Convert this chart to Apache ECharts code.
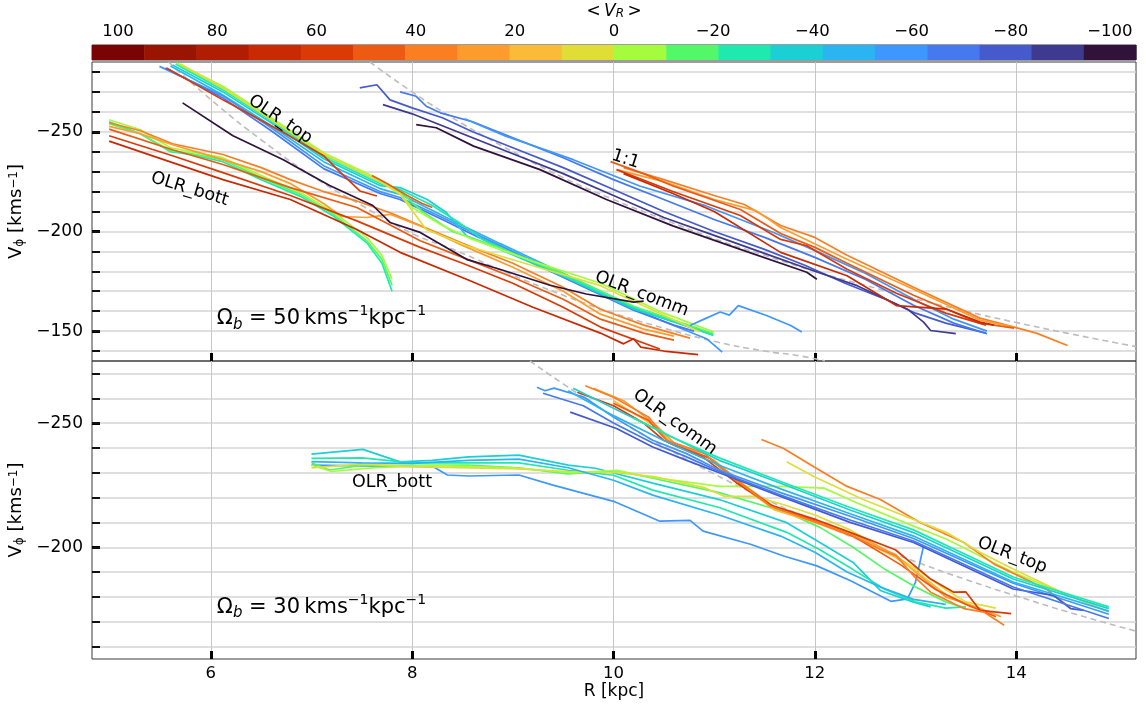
<!DOCTYPE html>
<html><head><meta charset="utf-8">
<script src="https://cdn.jsdelivr.net/npm/echarts@6/dist/echarts.min.js"></script>
<style>html,body{margin:0;padding:0;background:#fff}#c{width:1146px;height:709px}</style>
</head><body><div id="c"></div>
<script>
// ---------- colour bar ----------
const cbCenters = [100, 89.47, 78.95, 68.42, 57.89, 47.37, 36.84, 26.32, 15.79, 5.26,
  -5.26, -15.79, -26.32, -36.84, -47.37, -57.89, -68.42, -78.95, -89.47, -100];
const cbColors = ['#7a0403', '#9a1501', '#b01d02', '#c92903', '#db3a07', '#ed5a12', '#fb7e21', '#fe9b2d', '#fabb39', '#e1dd37',
  '#a4fc3c', '#52f868', '#1ee9af', '#1ad0d5', '#2bb4f2', '#3e97fe', '#4678f0', '#455bcd', '#3e3a8f', '#30123b'];
const cbTicks = [100, 80, 60, 40, 20, 0, -20, -40, -60, -80, -100];

// ---------- axes ticks ----------
const xTicks = [6, 8, 10, 12, 14];
const topMajor = [-250, -200, -150];
const topMinor = [-280, -270, -260, -250, -240, -230, -220, -210, -200, -190, -180, -170, -160, -150, -140];
const botMajor = [-250, -200];
const botMinor = [-270, -260, -250, -240, -230, -220, -210, -200, -190, -180, -170, -160];

// ---------- top panel (Omega_b = 50) ----------
// OLR_top -> OLR_comm group
const top1_vr = [-45, -55, -65, -35, -25, -15, -5, 5, 55, 45, -95];
const top1_lines = [
  [[5.6,-283],[6.12,-268.5],[6.6,-253],[7.12,-235],[7.68,-221.5],[7.88,-218.6],[8.34,-207],[8.54,-202],[8.87,-194],[9.54,-178],[10.2,-161.5],[10.99,-148]],
  [[5.49,-282.8],[6.12,-268],[6.6,-252],[7.12,-233],[7.68,-220],[7.88,-217],[8.34,-206],[8.54,-201],[8.87,-193],[9.54,-177],[10.2,-161],[10.93,-146],[11.08,-139.5]],
  [[5.55,-282],[6.12,-267],[6.6,-250.5],[7.12,-231.5],[7.68,-219],[7.88,-216],[8.34,-205],[8.54,-200],[8.87,-192],[9.54,-176],[10.2,-160.5],[10.6,-153],[10.8,-150]],
  [[5.62,-283.5],[6.12,-270],[6.6,-254.5],[7.12,-236.5],[7.68,-223],[7.88,-222],[8.15,-216],[8.34,-209.5],[8.54,-197.8],[8.87,-191.1],[9.54,-176.5],[10.2,-161],[10.99,-148.6]],
  [[5.65,-284],[6.12,-271],[6.6,-255.5],[7.12,-237.5],[7.68,-224],[7.88,-221],[8.2,-213],[8.45,-205],[8.7,-196],[9.0,-189],[9.54,-177],[10.2,-162],[10.99,-148]],
  [[5.66,-284.5],[6.12,-272],[6.6,-256.5],[7.12,-238.5],[7.68,-225],[7.88,-220],[8.1,-210],[8.4,-200],[8.8,-193],[9.54,-178],[10.2,-162.5],[10.99,-148.8]],
  [[5.66,-284.5],[6.12,-272.8],[6.6,-257],[7.12,-239.5],[7.68,-226],[7.88,-219],[8.0,-212],[8.3,-203],[8.6,-196],[9.2,-185],[9.87,-174],[10.5,-159],[11.0,-149.5]],
  [[5.7,-284],[6.12,-272],[6.6,-256],[7.12,-239],[7.68,-225],[7.88,-218.6],[8.14,-201],[8.54,-192.8],[9.2,-182.8],[9.87,-172.8],[10.86,-149.5]],
  [[5.56,-282],[6.12,-266],[6.7,-250.3],[7.12,-238],[7.3,-229],[7.48,-220.3],[7.65,-217.8]],
  [[7.6,-228],[7.75,-224],[7.95,-218],[8.1,-214],[8.2,-212]],
  [[5.72,-264.5],[6.22,-248],[6.72,-236],[7.18,-223],[7.61,-213],[7.78,-204.5],[8.08,-199.5],[8.54,-186],[8.87,-181],[9.37,-173],[9.73,-168.6],[10.2,-164.5],[10.3,-165]]
];
// OLR_bott group
const top2_vr = [-25, -15, -5, 35, 25, 45, 55, 65];
const top2_lines = [
  [[4.99,-255],[5.3,-249],[5.6,-240],[5.8,-238.6],[6.12,-235],[6.5,-226],[6.89,-217.6],[7.22,-207.6],[7.55,-194.3],[7.7,-184],[7.8,-170]],
  [[4.99,-254],[5.3,-249],[5.6,-240.5],[5.8,-239],[6.12,-236],[6.5,-227],[6.89,-218.6],[7.22,-208.6],[7.55,-195.3],[7.7,-186],[7.8,-173]],
  [[4.99,-256],[5.3,-251],[5.6,-242],[5.8,-240],[6.12,-237],[6.5,-228],[6.89,-219.6],[7.22,-209.6],[7.55,-197],[7.7,-188],[7.8,-176]],
  [[4.99,-254.5],[5.3,-250.5],[5.62,-244],[6.12,-238.6],[6.5,-232],[6.79,-226],[7.12,-220],[7.45,-215.3],[7.8,-209],[8.08,-203],[8.5,-194],[9.0,-184],[9.5,-172],[9.87,-161],[10.3,-153],[10.76,-146.5]],
  [[4.99,-252.7],[5.3,-249],[5.62,-243.5],[6.12,-236],[6.5,-230],[6.79,-224],[7.12,-214],[7.3,-207.5],[7.55,-207],[7.78,-208.6],[8.08,-202.8],[8.5,-193],[9.0,-182],[9.5,-170],[9.87,-158.5],[10.3,-151],[10.6,-147.5]],
  [[4.99,-251.3],[5.62,-241],[6.12,-233.6],[6.79,-222],[7.45,-212],[8.08,-195.3],[8.5,-187],[9.0,-177],[9.5,-166],[9.87,-156],[10.3,-149],[10.6,-145.5]],
  [[4.99,-248],[5.62,-238],[6.12,-229.5],[6.79,-218],[7.45,-205.3],[8.08,-192],[8.5,-184],[9.0,-174],[9.5,-162],[9.87,-152],[10.46,-141]],
  [[4.99,-245.3],[5.62,-234.5],[6.12,-226],[6.79,-216],[7.45,-201],[7.88,-189.5],[8.54,-176],[9.2,-162],[9.87,-149],[10.1,-143.6],[10.2,-146.2],[10.27,-142],[10.5,-140],[10.84,-138.2]]
];
// 1:1 group (upper right)
const top3_vr = [-75, -85, -95, -65, -55, 35, 25, 45, 55, 65, -55];
const top3_lines = [
  [[7.48,-272],[7.65,-273.6],[7.78,-266],[8.0,-262],[8.3,-257],[8.6,-250],[9.0,-242],[9.5,-232],[10.0,-221],[10.5,-210],[11.0,-200],[11.5,-191],[11.9,-183],[12.3,-174],[12.7,-166],[13.0,-159],[13.3,-154],[13.5,-151.5],[13.7,-149]],
  [[7.71,-263.6],[8.0,-259],[8.5,-249],[9.0,-239],[9.5,-229],[10.0,-218],[10.5,-207],[11.0,-198],[11.5,-189],[12.0,-180],[12.42,-172.8],[12.92,-161],[13.08,-154.5],[13.15,-150.3],[13.4,-148.7]],
  [[8.04,-253.6],[8.24,-252],[8.61,-242.8],[9.27,-231],[9.93,-216],[10.59,-202.8],[11.26,-191],[11.92,-179.5],[12.02,-176]],
  [[7.88,-270],[8.04,-267.8],[8.14,-262.8],[8.28,-259.5],[8.6,-255],[9.0,-247],[9.5,-237],[10.0,-226],[10.5,-216],[11.0,-206],[11.5,-197],[12.0,-187],[12.5,-176],[12.98,-163],[13.38,-154],[13.71,-148.7]],
  [[8.52,-256.5],[8.93,-247.8],[9.6,-236],[10.26,-222.8],[10.92,-212.8],[11.59,-199.5],[12.02,-190],[12.5,-179],[12.98,-166],[13.38,-156],[13.71,-150]],
  [[10.1,-232],[10.5,-226],[11.0,-218],[11.3,-213.5],[11.66,-203],[12.0,-197],[12.32,-188],[12.98,-172],[13.64,-156.5],[13.98,-152],[14.2,-149],[14.51,-142.8]],
  [[10.03,-231],[10.5,-225],[11.0,-216],[11.42,-210.3],[11.66,-202],[12.32,-186],[12.98,-171],[13.64,-155.5],[13.98,-152]],
  [[9.97,-235],[10.3,-229],[10.59,-222.8],[11.26,-211],[11.66,-199],[12.0,-192],[12.32,-184],[12.98,-168],[13.64,-154],[13.98,-151.5]],
  [[10.03,-231],[10.59,-220],[11.26,-208],[11.66,-196],[11.92,-192.8],[12.32,-181],[12.81,-169],[13.3,-159],[13.7,-153]],
  [[10.1,-229],[10.59,-219],[11.0,-210],[11.66,-189.5],[12.32,-177.8],[12.81,-162.8],[13.31,-161],[13.64,-154.5],[13.78,-153]],
  [[10.76,-152.8],[10.9,-156],[11.06,-159.6],[11.15,-158],[11.24,-162.8],[11.52,-157.8],[11.76,-152.8],[11.87,-149.5]]
];
const topDashA = [[7.58,-285],[8,-270],[8.5,-254],[9,-240],[9.5,-227],[10,-216],[10.5,-206],[11,-196.4],[11.5,-188],[12,-180],[12.5,-173],[13,-166.2],[13.5,-160],[14,-154.3],[14.5,-149],[15.19,-142.2]];
const topDashB = [[5.58,-285],[6.06,-263.6],[6.5,-246],[7,-228],[7.5,-213],[8,-199],[8.44,-190.3],[9,-178],[9.5,-168],[10,-159],[10.5,-151.5],[11.03,-144.5],[11.5,-140],[11.86,-137.5],[12.1,-135]];

// ---------- bottom panel (Omega_b = 30) ----------
// OLR_bott group
const bot1_vr = [-55, -35, -25, -15, -5, 5, -45, 35, 5];
const bot1_lines = [
  [[7.0,-233.1],[7.5,-232.8],[8.0,-232.6],[8.21,-232.4],[8.35,-229.1],[8.56,-228.7],[9.06,-229.1],[9.39,-225.1],[10.0,-218.5],[10.46,-210.5],[10.76,-210.8],[10.89,-206.5],[11.36,-201.2],[11.69,-196.5],[12.02,-192.5],[12.35,-186.6],[12.76,-178.2],[12.92,-179.2],[13.0,-186],[13.08,-200.5]],
  [[7.0,-237.5],[7.51,-239.4],[7.88,-234.4],[8.2,-235],[8.56,-236.4],[9.06,-237.1],[9.55,-233.1],[9.82,-231.8],[10.39,-225.8],[11.05,-219.2],[11.72,-209.9],[12.05,-201.9],[12.38,-193.9],[12.65,-182.6],[12.98,-177.9],[13.15,-176]],
  [[7.0,-235.8],[7.5,-236],[8.0,-234],[8.56,-234],[9.06,-234],[9.55,-231],[10.0,-229],[10.39,-223],[11.05,-216],[11.72,-206],[12.05,-199],[12.38,-191],[12.7,-183],[13.0,-178],[13.3,-175.5],[13.5,-176]],
  [[7.0,-234],[7.18,-231.1],[7.5,-233],[8.0,-233],[8.56,-233.1],[9.06,-232],[9.55,-229.5],[10.03,-230.8],[10.39,-227.8],[11.05,-222],[11.72,-214],[12.05,-208],[12.38,-200],[12.7,-191],[13.0,-184],[13.3,-178],[13.5,-175.5]],
  [[7.0,-233],[7.2,-230.5],[7.6,-232],[8.2,-233],[9.0,-232],[9.6,-230],[10.03,-231],[10.4,-228],[11.05,-224.5],[11.66,-224.5],[12.09,-223.8],[12.42,-217.8],[12.98,-208.5],[13.31,-203.2],[13.64,-196.5],[13.97,-189.9],[14.5,-181],[14.92,-173.9]],
  [[7.0,-232],[7.5,-233.5],[8.0,-232.5],[8.56,-232],[9.06,-231.5],[9.55,-230.5],[10.03,-230],[10.4,-228.5],[10.9,-224],[11.1,-220.5],[11.4,-220.5],[11.7,-217],[12.0,-213],[12.35,-207],[12.65,-200],[12.98,-192],[13.3,-183],[13.5,-178],[13.8,-175.5]],
  [[7.0,-234.5],[7.5,-234],[8.0,-233.8],[8.56,-235],[9.06,-235.5],[9.55,-232],[10.0,-227],[10.39,-221],[11.05,-213],[11.66,-204.5],[12.0,-198],[12.32,-190],[12.65,-184],[12.98,-179],[13.3,-177]],
  [[11.47,-243.4],[11.69,-239.8],[11.99,-232.4],[12.32,-224.5],[12.65,-219.2],[13.05,-209.9],[13.48,-201.9],[13.78,-193.2],[14.1,-187],[14.3,-183.2],[14.54,-175.5]],
  [[11.72,-234.4],[11.99,-228.5],[12.48,-219.2],[12.98,-211.2],[13.31,-205.9],[13.64,-198],[13.97,-191.2],[14.5,-181],[14.92,-174]]
];
// OLR_comm -> OLR_top blue group
const bot2_vr = [-55, -75, -65, -45, -35, -25];
const bot2_lines = [
  [[9.24,-264.4],[9.32,-263],[9.41,-264.1],[9.71,-260.4],[10.0,-252.4],[10.39,-243.1],[10.72,-237.8],[11.05,-231.1],[11.66,-222],[12.35,-212.5],[12.98,-203.5],[13.97,-185.5],[14.92,-173]],
  [[9.57,-254.4],[10.03,-247.8],[10.39,-240.4],[10.72,-235.1],[11.05,-230],[11.66,-220.5],[12.35,-210],[12.98,-201.9],[13.97,-183.2],[14.37,-180.6],[14.54,-175.3],[14.67,-174.6]],
  [[9.3,-262],[9.7,-257],[10.0,-250],[10.39,-242],[10.72,-236.5],[11.05,-230.5],[11.66,-221],[12.35,-211],[12.98,-202.5],[13.97,-184],[14.92,-171.3]],
  [[9.55,-263],[10.0,-253],[10.5,-243],[11.05,-233],[11.66,-223.5],[12.35,-213.5],[12.98,-204.5],[13.97,-186],[14.92,-174.3]],
  [[9.6,-264],[10.0,-256],[10.5,-246],[11.05,-235],[11.66,-225.8],[12.35,-215],[12.98,-205.9],[13.97,-187.2],[14.92,-175.3]],
  [[10.2,-252],[10.6,-244],[11.05,-236],[11.66,-226.5],[12.35,-216],[12.98,-207],[13.97,-188],[14.92,-176]]
];
// OLR_comm orange/red group
const bot3_vr = [25, 15, 45, 55, 35];
const bot3_lines = [
  [[9.8,-264],[10.1,-259],[10.4,-250],[10.6,-242],[11.0,-235],[11.3,-225],[11.6,-216],[12.0,-211],[12.4,-205],[12.8,-197],[13.0,-190],[13.3,-180],[13.6,-176],[13.85,-172]],
  [[10.0,-259],[10.4,-249],[10.6,-241],[11.0,-234],[11.3,-224],[11.6,-215],[12.0,-210],[12.4,-204],[12.8,-196],[13.0,-190.5],[13.3,-181],[13.6,-175.5]],
  [[10.0,-258],[10.35,-251],[10.55,-242],[10.95,-236],[11.25,-226],[11.6,-216],[12.0,-210.5],[12.4,-204],[12.85,-193],[13.2,-183],[13.5,-177],[13.8,-172]],
  [[9.64,-262.4],[10.0,-257],[10.3,-250],[10.5,-243],[10.9,-236],[11.22,-226],[11.56,-217],[12.02,-211],[12.35,-206],[12.8,-199],[13.15,-187.2],[13.38,-181.9],[13.5,-182],[13.64,-174.6],[13.95,-173.3]],
  [[9.72,-265],[10.0,-260.4],[10.35,-252.4],[10.53,-243.1],[10.9,-237.8],[11.22,-227.1],[11.56,-216.5],[12.02,-209.9],[12.35,-205.2],[12.65,-199.2],[12.81,-196.5],[12.98,-188.5],[13.15,-181.9],[13.48,-175.3],[13.68,-173.9],[13.88,-168.6]]
];
const botDash = [[9.17,-275],[9.5,-265.8],[10,-252.5],[10.5,-240.5],[11,-229.5],[11.5,-219.6],[12,-210.4],[12.5,-202],[13,-194.2],[13.5,-187],[14,-180.4],[14.5,-174.1],[15.19,-166.2]];

// ---------- annotations ----------
const topNoteText = ['OLR_top', 'OLR_bott', '1:1', 'OLR_comm'];
const topNoteR = [6.69, 5.79, 10.12, 10.28];
const topNoteV = [-256.2, -221.2, -236.2, -168.6];
const topNoteRot = [-34, -17, -18, -21];
const botNoteText = ['OLR_bott', 'OLR_comm', 'OLR_top'];
const botNoteR = [7.8, 10.61, 13.96];
const botNoteV = [-225.9, -250.4, -196.8];
const botNoteRot = [0, -36, -21];
const omegaText = ['50', '30'];
const omegaR = [6.06, 6.06];
const omegaV = [-156.2, -175.9];

// ---------- build ----------
const FONT = 'DejaVu Sans';
const TXT = '#000';
function colorFor(vr) {
  let best = 0, d = 1e9;
  cbCenters.forEach((c, i) => { const dd = Math.abs(c - vr); if (dd < d) { d = dd; best = i; } });
  return cbColors[best];
}
const minus = v => String(v).replace('-', '\u2212');
const cbHalf = (cbCenters[0] - cbCenters[1]) / 2;

const series = [];
series.push({
  type: 'custom', xAxisIndex: 0, yAxisIndex: 0, silent: true,
  data: cbCenters.map((c, i) => [c, i]),
  renderItem: (params, api) => {
    const c = api.value(0);
    const p0 = api.coord([c + cbHalf, 0]);
    const p1 = api.coord([c - cbHalf, 1]);
    return { type: 'rect', shape: { x: Math.min(p0[0], p1[0]), y: Math.min(p0[1], p1[1]), width: Math.abs(p1[0] - p0[0]) + 0.5, height: Math.abs(p1[1] - p0[1]) },
      style: { fill: cbColors[api.value(1)] } };
  }
});
function dash(data, xi, yi) {
  series.push({ type: 'line', xAxisIndex: xi, yAxisIndex: yi, data, smooth: true, symbol: 'none', silent: true, z: 1,
    lineStyle: { color: '#bdbdbd', width: 1.6, type: [6, 4] } });
}
function group(lines, vrs, xi, yi) {
  lines.forEach((pts, k) => {
    series.push({ type: 'line', xAxisIndex: xi, yAxisIndex: yi, data: pts, symbol: 'none', silent: true, z: 2,
      lineStyle: { color: colorFor(vrs[k]), width: 1.7 } });
  });
}
dash(topDashA, 1, 1); dash(topDashB, 1, 1); dash(botDash, 2, 3);
group(top2_lines, top2_vr, 1, 1);
group(top1_lines, top1_vr, 1, 1);
group(top3_lines, top3_vr, 1, 1);
group(bot1_lines, bot1_vr, 2, 3);
group(bot3_lines, bot3_vr, 2, 3);
group(bot2_lines, bot2_vr, 2, 3);

const labelBase = { show: true, fontFamily: FONT, color: TXT, opacity: 1, textBorderWidth: 0, textShadowBlur: 0 };
function notes(texts, Rs, Vs, rots, xi, yi) {
  series.push({ type: 'scatter', xAxisIndex: xi, yAxisIndex: yi, symbolSize: 0, silent: true, z: 5,
    itemStyle: { opacity: 1 },
    data: texts.map((t, i) => ({ value: [Rs[i], Vs[i]],
      label: Object.assign({}, labelBase, { position: [0, 0], formatter: t, rotate: rots[i], align: 'center', verticalAlign: 'middle',
        fontSize: 17.5 }) })) });
}
notes(topNoteText, topNoteR, topNoteV, topNoteRot, 1, 1);
notes(botNoteText, botNoteR, botNoteV, botNoteRot, 2, 3);
const omRich = {
  a: { fontFamily: FONT, fontSize: 21, color: TXT, lineHeight: 28 },
  b: { fontFamily: FONT, fontSize: 15, fontStyle: 'italic', color: TXT, verticalAlign: 'bottom', lineHeight: 15 },
  s: { fontFamily: FONT, fontSize: 14, color: TXT, verticalAlign: 'top', lineHeight: 14 }
};
[[0, 1, 1], [1, 2, 3]].forEach(([i, xi, yi]) => {
  series.push({ type: 'scatter', xAxisIndex: xi, yAxisIndex: yi, symbolSize: 0, silent: true, z: 5,
    itemStyle: { opacity: 1 },
    data: [{ value: [omegaR[i], omegaV[i]], label: Object.assign({}, labelBase, { position: 'right', distance: 0,
      formatter: '{a|\u03a9}{b|b}{a| = ' + omegaText[i] + '\u2009kms}{s|\u22121}{a|kpc}{s|\u22121}', rich: omRich }) }] });
});

const gridBox = { show: true, borderColor: '#3a3a3a', borderWidth: 1, backgroundColor: 'transparent', containLabel: false, outerBoundsMode: 'none' };
const hGrid = { show: true, lineStyle: { color: '#d4d4d4', width: 1.5 } };
const vGrid = { show: true, lineStyle: { color: '#c6c6c6', width: 1 } };
const yName = '{v|V}{p|\u03d5} [kms{s|\u22121}]';
const yNameStyle = { fontFamily: FONT, fontSize: 18, color: TXT,
  rich: { v: { fontFamily: FONT, fontSize: 18, color: TXT }, p: { fontFamily: FONT, fontSize: 12, color: TXT, verticalAlign: 'bottom', lineHeight: 13 },
    s: { fontFamily: FONT, fontSize: 12, color: TXT, verticalAlign: 'top', lineHeight: 12 } } };

function xPanel(gi, labels) {
  return { type: 'value', gridIndex: gi, min: 4.82, max: 15.19, position: 'bottom',
    axisLine: { show: false },
    axisTick: { show: true, inside: true, length: 8, customValues: xTicks, lineStyle: { color: '#000', width: 3 } },
    axisLabel: { show: labels, customValues: xTicks, fontFamily: FONT, fontSize: 16.5, color: TXT, margin: 6 },
    splitLine: vGrid,
    name: labels ? 'R [kpc]' : '', nameLocation: 'middle', nameGap: 24,
    nameTextStyle: { fontFamily: FONT, fontSize: 17, color: TXT } };
}
function yMain(gi, min, max, major) {
  return { type: 'value', gridIndex: gi, min, max, inverse: true, position: 'left',
    axisLine: { show: false },
    axisTick: { show: true, inside: true, length: 8, customValues: major, lineStyle: { color: '#000', width: 3 } },
    axisLabel: { customValues: major, formatter: minus, fontFamily: FONT, fontSize: 17, color: TXT, margin: 9 },
    splitLine: { show: false },
    name: yName, nameLocation: 'middle', nameRotate: 90, nameGap: 64, nameTextStyle: yNameStyle };
}
function yMinor(gi, min, max, minor) {
  return { type: 'value', gridIndex: gi, min, max, inverse: true, position: 'left',
    axisLine: { show: false },
    axisTick: { show: true, inside: true, length: 8, customValues: minor, lineStyle: { color: '#111', width: 2 } },
    axisLabel: { show: false },
    splitLine: hGrid };
}

const option = {
  animation: false,
  backgroundColor: '#fff',
  textStyle: { fontFamily: FONT },
  grid: [
    Object.assign({ left: 92, width: 1044, top: 45, height: 15 }, gridBox),
    Object.assign({ left: 92, width: 1044, top: 62, height: 299 }, gridBox),
    Object.assign({ left: 92, width: 1044, top: 361, height: 298 }, gridBox)
  ],
  xAxis: [
    { type: 'value', gridIndex: 0, min: -105.263, max: 105.263, inverse: true, position: 'top',
      axisLine: { show: false },
      axisTick: { show: true, length: 3, customValues: cbTicks, lineStyle: { color: '#333', width: 1 } },
      axisLabel: { customValues: cbTicks, formatter: minus, fontFamily: FONT, fontSize: 16.5, color: TXT, margin: 5 },
      splitLine: { show: false },
      name: '{t|<\u2009}{v|V}{r|R}{t|\u2009>}', nameLocation: 'middle', nameGap: 25,
      nameTextStyle: { rich: {
        t: { fontFamily: FONT, fontSize: 17, color: TXT },
        v: { fontFamily: FONT, fontSize: 17, fontStyle: 'italic', color: TXT },
        r: { fontFamily: FONT, fontSize: 12, fontStyle: 'italic', color: TXT, verticalAlign: 'bottom', lineHeight: 13 } } } },
    xPanel(1, false),
    xPanel(2, true)
  ],
  yAxis: [
    { type: 'value', gridIndex: 0, min: 0, max: 1, show: false },
    yMain(1, -285, -135, topMajor),
    yMinor(1, -285, -135, topMinor),
    yMain(2, -275, -155, botMajor),
    yMinor(2, -275, -155, botMinor)
  ],
  series
};
const chart = echarts.init(document.getElementById('c'), null, { renderer: 'canvas' });
chart.setOption(option);
</script>
</body></html>
